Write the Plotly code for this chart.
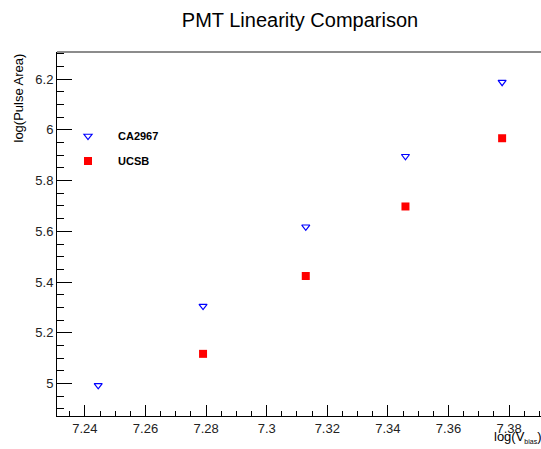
import plotly.graph_objects as go

# Data
ca_x = [7.2444, 7.2790, 7.3129, 7.3458, 7.3777]
ca_y = [4.993, 5.3055, 5.618, 5.896, 6.188]
ucsb_x = [7.2790, 7.3129, 7.3458, 7.3777]
ucsb_y = [5.117, 5.424, 5.698, 5.967]

x_ticks = [7.24, 7.26, 7.28, 7.30, 7.32, 7.34, 7.36, 7.38]
x_tick_labels = ["7.24", "7.26", "7.28", "7.3", "7.32", "7.34", "7.36", "7.38"]
y_ticks = [5.0, 5.2, 5.4, 5.6, 5.8, 6.0, 6.2]
y_tick_labels = ["5", "5.2", "5.4", "5.6", "5.8", "6", "6.2"]

FONT = "Liberation Sans, Arial, Helvetica, sans-serif"

fig = go.Figure()
fig.add_trace(go.Scatter(
    x=ca_x, y=ca_y, mode="markers", name="CA2967",
    marker=dict(symbol="triangle-down-open", color="#0000ff", size=7,
                line=dict(width=1.2, color="#0000ff")),
    legend="legend",
))
fig.add_trace(go.Scatter(
    x=ucsb_x, y=ucsb_y, mode="markers", name="UCSB",
    marker=dict(symbol="square", color="#ff0000", size=8,
                line=dict(width=0)),
    legend="legend2",
))

# figure is wider than the window: the frame's right side is cut off as in the reference
W, H = 560, 449
L, R, T, B = 57, 0, 52, 33

def px_to_paper_x(px):
    return (px - L) / (W - L - R)

def px_to_paper_y(py):
    return (H - B - py) / (H - T - B)

legend_common = dict(
    bgcolor="rgba(0,0,0,0)", borderwidth=0,
    font=dict(family=FONT, size=11, color="#000000", weight="bold"),
    xanchor="left", yanchor="middle", itemwidth=50,
    xref="paper", yref="paper",
)

fig.update_layout(
    width=W, height=H,
    margin=dict(l=L, r=R, t=T, b=B),
    paper_bgcolor="white", plot_bgcolor="white",
    showlegend=True,
    hovermode=False,
    title=dict(text="PMT Linearity Comparison", x=300 / W, xanchor="center",
               y=1 - 20 / H, yanchor="middle",
               font=dict(family=FONT, size=20, color="#000000")),
    legend=dict(x=px_to_paper_x(58), y=px_to_paper_y(136), **legend_common),
    legend2=dict(x=px_to_paper_x(58), y=px_to_paper_y(161), **legend_common),
    xaxis=dict(
        range=[7.2308, 7.3968],
        tickvals=x_ticks, ticktext=x_tick_labels,
        ticks="inside", ticklen=11, tickwidth=1, tickcolor="#000000",
        showline=True, linecolor="#000000", linewidth=1,
        showgrid=False, zeroline=False,
        tickfont=dict(family=FONT, size=13, color="#222222"),
        minor=dict(dtick=0.005, tick0=7.24, ticks="inside", ticklen=5,
                   tickwidth=1, tickcolor="#000000", showgrid=False),
    ),
    yaxis=dict(
        range=[4.872, 6.307],
        tickvals=y_ticks, ticktext=y_tick_labels,
        ticks="inside", ticklen=15, tickwidth=1, tickcolor="#000000",
        showline=True, linecolor="#000000", linewidth=1,
        showgrid=False, zeroline=False,
        tickfont=dict(family=FONT, size=13, color="#222222"),
        minor=dict(dtick=0.05, tick0=5.0, ticks="inside", ticklen=7,
                   tickwidth=1, tickcolor="#000000", showgrid=False),
    ),
    annotations=[
        dict(text="log(Pulse Area)", textangle=-90, xref="paper", yref="paper",
             x=0, y=1, xanchor="center", yanchor="top", xshift=-39,
             showarrow=False,
             font=dict(family=FONT, size=13, color="#000000")),
        dict(text="log(V<sub><span style='font-size:7px'>bias</span></sub>)",
             xref="paper", yref="paper",
             x=px_to_paper_x(544), y=0, xanchor="right", yanchor="top", yshift=-11,
             showarrow=False,
             font=dict(family=FONT, size=13, color="#000000")),
    ],
    shapes=[
        dict(type="line", xref="paper", yref="paper", x0=0, x1=1, y0=1, y1=1,
             line=dict(color="#666666", width=1.5)),
    ],
)

fig.write_html("out.html",
               config={"displayModeBar": False},
               post_script="document.body.style.margin='0px';document.body.style.overflow='hidden';")
